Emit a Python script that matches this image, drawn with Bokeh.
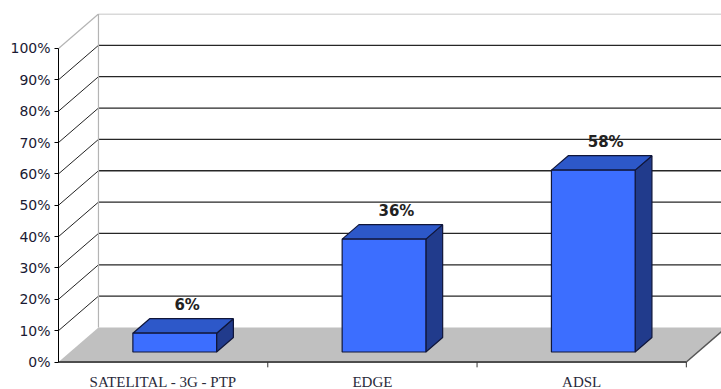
from bokeh.plotting import figure
from bokeh.models import Range1d, FixedTicker, PrintfTickFormatter
from bokeh.core.properties import value
from bokeh.embed import file_html
from bokeh.resources import INLINE

# --- data -------------------------------------------------------------
categories = ["SATELITAL - 3G - PTP", "EDGE", "ADSL"]
shares = [6, 36, 58]                      # percent
pct_ticks = [0, 10, 20, 30, 40, 50, 60, 70, 80, 90, 100]

# --- oblique 3-D projection (depth expressed in data units) -----------
DX = 0.191        # horizontal shift of the full depth, in category units
DZ = 11.0         # vertical shift of the full depth, in percent units
D_FRONT, D_BACK = 0.29, 0.71   # bar depth span (fraction of the floor depth)
HALF_W = 0.2                   # half bar width, category units

n = len(categories)
x_lo = 0.5
x_hi = x_lo + 3.168

p = figure(width=721, height=389,
           x_range=Range1d(x_lo, x_hi), y_range=Range1d(-8.77, 111.16),
           x_axis_location=None,
           output_backend="svg", toolbar_location=None,
           min_border_left=58, min_border_right=0,
           min_border_top=13, min_border_bottom=0,
           outline_line_color=None,
           background_fill_color="white", border_fill_color="white")
p.xgrid.visible = False
p.ygrid.visible = False

# floor
p.patch([x_lo, x_lo + n, x_lo + n + DX, x_lo + DX], [0, 0, DZ, DZ],
        fill_color="#C0C0C0", line_color=None)
p.segment(x0=[x_lo + n], y0=[0], x1=[x_lo + n + DX], y1=[DZ],
          line_color="#555555", line_width=1.5)

# back-wall and side-wall gridlines
inner = [t for t in pct_ticks if 0 < t < 100]
p.segment(x0=[x_lo + DX] * len(inner), y0=[t + DZ for t in inner],
          x1=[x_hi + 1] * len(inner), y1=[t + DZ for t in inner],
          line_color="#262626", line_width=1.3)
p.segment(x0=[x_lo] * len(inner), y0=inner,
          x1=[x_lo + DX] * len(inner), y1=[t + DZ for t in inner],
          line_color="#222222", line_width=1)
top = pct_ticks[-1]
p.segment(x0=[x_lo + DX, x_lo, x_lo + DX], y0=[top + DZ, top, DZ],
          x1=[x_hi + 1, x_lo + DX, x_lo + DX], y1=[top + DZ, top + DZ, top + DZ],
          line_color="#B4B4B4", line_width=1.2)

# front edge of the floor with category separators
p.segment(x0=[x_lo], y0=[0], x1=[x_lo + n], y1=[0],
          line_color="#4d4d4d", line_width=2)
seps = [i + 1.5 for i in range(n)]
p.segment(x0=seps, y0=[0] * n, x1=seps, y1=[-1.7] * n,
          line_color="#333333", line_width=1)

# bars: side, top, front faces
front_xs, front_ys, top_xs, top_ys, side_xs, side_ys = [], [], [], [], [], []
lab_x, lab_y = [], []
for i, v in enumerate(shares):
    c = i + 1
    xl0 = c - HALF_W + D_FRONT * DX
    xr0 = c + HALF_W + D_FRONT * DX
    xl1 = c - HALF_W + D_BACK * DX
    xr1 = c + HALF_W + D_BACK * DX
    b0, b1 = D_FRONT * DZ, D_BACK * DZ
    t0, t1 = v + b0, v + b1
    front_xs.append([xl0, xr0, xr0, xl0]); front_ys.append([b0, b0, t0, t0])
    top_xs.append([xl0, xr0, xr1, xl1]);   top_ys.append([t0, t0, t1, t1])
    side_xs.append([xr0, xr1, xr1, xr0]);  side_ys.append([b0, b1, t1, t0])
    lab_x.append(c + 0.6 * DX)
    lab_y.append(v + DZ + 1.2)

outline = dict(line_color="#10163a", line_width=1.2)
p.patches(side_xs, side_ys, fill_color="#213B8C", **outline)
p.patches(top_xs, top_ys, fill_color="#2D58C9", **outline)
p.patches(front_xs, front_ys, fill_color="#3C6EFF", **outline)

# value labels above the bars
p.text(x=lab_x, y=lab_y, text=[f"{v}%" for v in shares],
       text_font=value("DejaVu Sans"), text_font_style="bold",
       text_font_size="15px", text_color="#222222",
       text_align="center", text_baseline="middle")

# category names under the floor
p.text(x=[i + 1 for i in range(n)], y=[-6.4] * n, text=categories,
       text_font=value("Liberation Serif"), text_font_size="15px",
       text_color="#2a2a3a", text_align="center", text_baseline="middle")

# value axis (front edge of the side wall)
ya = p.yaxis[0]
ya.ticker = FixedTicker(ticks=pct_ticks)
ya.formatter = PrintfTickFormatter(format="%d%%")
ya.bounds = (0, 100)
ya.axis_line_color = "black"
ya.axis_line_width = 1
ya.major_tick_out = 4
ya.major_tick_in = 0
ya.major_tick_line_color = "black"
ya.minor_tick_line_color = None
ya.major_label_standoff = 4
ya.major_label_text_font = "DejaVu Sans"
ya.major_label_text_font_size = "14px"
ya.major_label_text_color = "#1a1a33"

open("out.html", "w").write(file_html(p, INLINE))
